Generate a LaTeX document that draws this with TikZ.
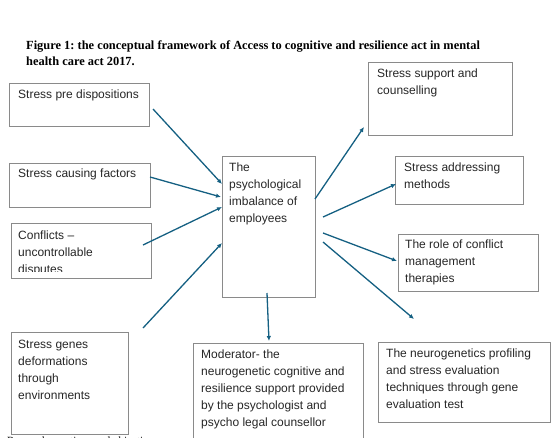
\documentclass[tikz,border=0pt]{standalone}
\usepackage{fontspec}
\setmainfont{Liberation Serif}
\setsansfont{Liberation Sans}
\usepackage{xcolor}
\usetikzlibrary{positioning,calc,arrows.meta}
\definecolor{flowblue}{HTML}{156082}
\definecolor{framegray}{HTML}{8A8A8A}
\definecolor{inkgray}{HTML}{262626}
\frenchspacing

\begin{document}
\begin{tikzpicture}[x=1pt, y=-1pt, >={Latex[length=5pt,width=4.5pt]},
    box/.style={draw=framegray, line width=0.8pt, anchor=north west, inner sep=0pt},
    txt/.style={anchor=north west, yshift=8.8pt, align=left, inner sep=0pt, text=inkgray,
        font=\sffamily\fontsize{12}{17}\selectfont},
    flow/.style={->, draw=flowblue, line width=1.3pt}]
    \clip (0,0) rectangle (551,437);

    % heading
    \node [anchor=north west, yshift=8.8pt, align=left, inner sep=0pt, font=\bfseries\fontsize{12.4}{16}\selectfont] (title) at (26,49)
        {Figure 1: the conceptual framework of Access to cognitive and resilience act in mental\\health care act 2017.};

    % left column
    \node [box, minimum width=140pt, minimum height=43pt] (predisp) at (9,83) {};
    \node [txt] (predisptxt) at (18,98) {Stress pre dispositions};
    \node [box, minimum width=141pt, minimum height=44pt] (causing) at (9,163) {};
    \node [txt] (causingtxt) at (18,177) {Stress causing factors};
    \node [box, minimum width=140pt, minimum height=55pt] (conflicts) at (11,223) {};
    \begin{scope}
        \clip (conflicts.north west) rectangle ([yshift=7pt]conflicts.south east);
        \node [txt] (conflictstxt) at (18,239) {Conflicts --\\uncontrollable\\disputes};
    \end{scope}
    \node [box, minimum width=117pt, minimum height=102pt] (genes) at (11,332) {};
    \node [txt] (genestxt) at (18,349) {Stress genes\\deformations\\through\\environments};

    % centre
    \node [box, minimum width=93pt, minimum height=141pt] (imbalance) at (222,156) {};
    \node [txt] (imbalancetxt) at (229,171) {The\\psychological\\imbalance of\\employees};

    % right column
    \node [box, minimum width=144pt, minimum height=73pt] (support) at (368,62) {};
    \node [txt] (supporttxt) at (377,77) {Stress support and\\counselling};
    \node [box, minimum width=128pt, minimum height=48pt] (addressing) at (395,156) {};
    \node [txt] (addressingtxt) at (404,171) {Stress addressing\\methods};
    \node [box, minimum width=140pt, minimum height=57pt] (conflictrole) at (398,234) {};
    \node [txt] (conflictroletxt) at (405,248) {The role of conflict\\management\\therapies};

    % bottom row
    \node [box, minimum width=170pt, minimum height=110pt] (moderator) at (193,343) {};
    \node [txt] (moderatortxt) at (201,358) {Moderator- the\\neurogenetic cognitive and\\resilience support provided\\by the psychologist and\\psycho legal counsellor};
    \node [box, minimum width=172pt, minimum height=80pt] (profiling) at (378,342) {};
    \node [txt] (profilingtxt) at (386,357) {The neurogenetics profiling\\and stress evaluation\\techniques through gene\\evaluation test};
    \node [anchor=base west, inner sep=0pt, font=\fontsize{11}{13}\selectfont] (nextpart) at (7,444) {Research questions and objectives};

    % arrow ends
    \coordinate (predispout) at (153,109);
    \coordinate (causingout) at (150,177);
    \coordinate (conflictsout) at (143,245);
    \coordinate (genesout) at (143,328);
    \coordinate (inA) at (222,184);
    \coordinate (inB) at (221,197);
    \coordinate (inC) at (222,207);
    \coordinate (inD) at (222,243);
    \coordinate (outA) at (315,199);
    \coordinate (outB) at (323,217);
    \coordinate (outC) at (323,233);
    \coordinate (outD) at (323,242);
    \coordinate (outE) at (267,293);
    \coordinate (supportin) at (364,127);
    \coordinate (addressingin) at (396,184);
    \coordinate (conflictrolein) at (397,261);
    \coordinate (profilingin) at (414,319);
    \coordinate (moderatorin) at (269,341);

    \draw [flow] (predispout) -- (inA);
    \draw [flow] (causingout) -- (inB);
    \draw [flow] (conflictsout) -- (inC);
    \draw [flow] (genesout) -- (inD);
    \draw [flow] (outA) -- (supportin);
    \draw [flow] (outB) -- (addressingin);
    \draw [flow] (outC) -- (conflictrolein);
    \draw [flow] (outD) -- (profilingin);
    \draw [flow] (outE) -- (moderatorin);
\end{tikzpicture}
\end{document}
